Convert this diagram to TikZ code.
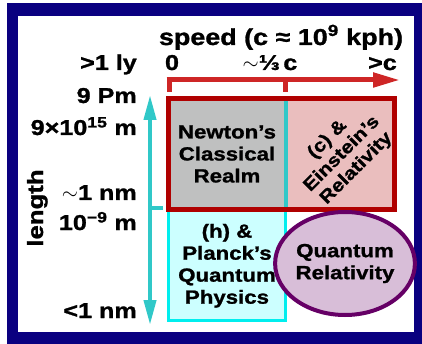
\documentclass[tikz,border=0pt]{standalone}
\usepackage{fontspec}
\setmainfont{Liberation Sans}[FakeStretch=1.17, BoldFeatures={FakeBold=1.2}]
\usetikzlibrary{arrows.meta,shapes.geometric}
\definecolor{navy}{RGB}{10,0,128}
\definecolor{arrowred}{RGB}{206,38,38}
\definecolor{boxred}{RGB}{176,0,0}
\definecolor{grayc}{RGB}{191,192,192}
\definecolor{pinkc}{RGB}{234,190,190}
\definecolor{cyanc}{RGB}{48,200,200}
\definecolor{cyanb}{RGB}{0,238,238}
\definecolor{lcyan}{RGB}{204,255,255}
\definecolor{purp}{RGB}{102,0,102}
\definecolor{lpurp}{RGB}{216,190,216}
\tikzset{
  lbl/.style={font=\fontsize{21.5}{24}\selectfont\bfseries, inner sep=0pt},
  celltxt/.style={font=\fontsize{19}{22}\selectfont\bfseries, align=center},
  cellbox/.style={inner sep=0pt, outer sep=0pt},
  redarrow/.style={draw=arrowred, line width=5pt},
  cyanarrow/.style={draw=cyanc, line width=4pt},
}
\begin{document}
\begin{tikzpicture}[x=1pt,y=-1pt]
\useasboundingbox (0,0) rectangle (422,344);
% frame
\fill[navy] (7,3) rectangle (422,344);
\fill[white] (18,16) rectangle (414,332);
% labels
\node[lbl, font=\fontsize{23}{27}\selectfont\bfseries, anchor=base] (title) at (281,45) {speed (c ≈ 10\textsuperscript{9} kph)};
\node[lbl, anchor=base east] (ly) at (137,70) {>1 ly};
\node[lbl, anchor=base] (s0) at (172,70) {0};
\node[lbl, anchor=base] (s13) at (270,70) {$\sim$⅓\,c};
\node[lbl, anchor=base east] (sc) at (397,70) {>c};
\node[lbl, anchor=base east] (pm) at (137,103) {9 Pm};
\node[lbl, anchor=base east] (m15) at (137,135) {9×10\textsuperscript{15} m};
\node[lbl, anchor=base east] (nm1) at (137,200) {$\sim$1 nm};
\node[lbl, anchor=base east] (m9) at (137,230) {10\textsuperscript{−9} m};
\node[lbl, anchor=base east] (nmlt) at (137,318) {<1 nm};
\node[lbl, font=\fontsize{22}{24}\selectfont\bfseries, rotate=90, anchor=base] (len) at (43,208) {length};
% cells
\node[cellbox, fill=grayc, minimum width=117pt, minimum height=111pt, celltxt] (newton) at (227,154) {Newton’s\\Classical\\Realm};
\node[cellbox, fill=pinkc, minimum width=109pt, minimum height=111pt] (einst) at (340,154) {};
\node[celltxt, font=\fontsize{18}{20.5}\selectfont\bfseries, rotate=45] (einsttxt) at (342,154) {(c) \&\\Einstein’s\\Relativity};
\draw[cyanc, line width=4pt] (newton.north east) -- (newton.south east);
\node[cellbox, draw=cyanb, line width=3pt, fill=lcyan, minimum width=117pt, minimum height=109.5pt, celltxt] (planck) at (227,265.75) {(h) \&\\Planck’s\\Quantum\\Physics};
\draw[boxred, line width=5pt] (newton.north west) rectangle (einst.south east);
\node[cellbox, ellipse, draw=purp, line width=4pt, fill=lpurp, minimum width=120pt, minimum height=103pt, celltxt] (qr) at (345,263.5) {Quantum\\Relativity};
% speed axis
\coordinate (hl) at (166.5,80);
\coordinate (hr) at (400,80);
\coordinate (t0) at (169,80);
\coordinate (t0b) at (169,92);
\coordinate (t1) at (285,80);
\coordinate (t1b) at (285,92);
\draw[redarrow, -{Triangle[length=27pt,width=14pt]}] (hl) -- (hr);
\draw[redarrow] (t0) -- (t0b);
\draw[redarrow] (t1) -- (t1b);
% length axis
\coordinate (vt) at (150,95);
\coordinate (vb) at (150,325);
\coordinate (vm) at (150,208);
\coordinate (vmr) at (163,208);
\draw[cyanarrow, {Triangle[length=25pt,width=12pt]}-{Triangle[length=25pt,width=12pt]}] (vt) -- (vb);
\draw[cyanarrow] (vm) -- (vmr);
\end{tikzpicture}
\end{document}
